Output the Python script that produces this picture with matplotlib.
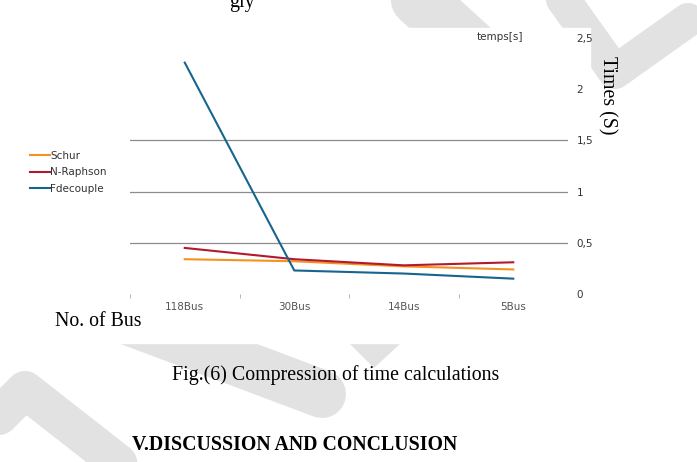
import numpy as np
import matplotlib.pyplot as plt
from matplotlib.patches import Polygon, Rectangle
from matplotlib.lines import Line2D

# bus systems and computing times (s)
buses = ["118Bus", "30Bus", "14Bus", "5Bus"]
schur = [0.34, 0.32, 0.27, 0.24]
n_raphson = [0.45, 0.34, 0.28, 0.31]
fdecouple = [2.26, 0.23, 0.20, 0.15]
y_ticks = [0, 0.5, 1, 1.5, 2, 2.5]
y_labels = ["0", "0,5", "1", "1,5", "2", "2,5"]

W, H = 697, 462
fig = plt.figure(figsize=(6.97, 4.62), dpi=100)


def px(x, y):
    # pixel position (from top-left) -> figure fraction
    return x / W, 1 - y / H


# faint watermark of the page, mostly hidden behind the chart picture
wm = "#e2e2e2"
for path, width in [
    ([(370, -45), (540, 110)], 55),
    ([(535, -40), (615, 72), (688, 20)], 34),
    ([(125, 320), (322, 394)], 48),
    ([(-10, 425), (25, 390), (140, 480)], 38),
]:
    xs, ys = zip(*[px(a, b) for a, b in path])
    fig.add_artist(Line2D(xs, ys, transform=fig.transFigure, color=wm,
                          lw=width * 0.72, solid_capstyle="round",
                          solid_joinstyle="round", zorder=0))
fig.patches.append(Polygon([px(350, 343), px(400, 343), px(374, 367)],
                           closed=True, transform=fig.transFigure, color=wm,
                           zorder=0))
# white background of the pasted chart picture
fig.patches.append(Rectangle(px(0, 343), 590 / W, 315 / H,
                             transform=fig.transFigure, color="white",
                             zorder=0.5))

ax = fig.add_axes([0.1865, 0.3636, 0.6285, 0.5541])
ax.set_zorder(1)
x = np.arange(len(buses))

ax.plot(x, schur, color="#f5911f", lw=1.5, label="Schur")
ax.plot(x, n_raphson, color="#b3192c", lw=1.5, label="N-Raphson")
ax.plot(x, fdecouple, color="#15658f", lw=1.5, label="Fdecouple")

ax.set_xlim(-0.5, 3.5)
ax.set_ylim(0, 2.5)
for v in [0.5, 1, 1.5]:
    ax.axhline(v, color="#8c8c8c", lw=0.9, zorder=0)

ax.yaxis.tick_right()
ax.set_yticks(y_ticks)
ax.set_yticklabels(y_labels)
ax.tick_params(axis="y", length=0, pad=6, labelsize=7.5, labelcolor="#333333")
ax.set_xticks(x)
ax.set_xticklabels(buses)
ax.tick_params(axis="x", which="major", length=0, pad=6, labelsize=7.5,
               labelcolor="#555555")
ax.set_xticks([-0.5, 0.5, 1.5, 2.5], minor=True)
ax.tick_params(axis="x", which="minor", length=3, color="#aaaaaa", width=0.6,
               direction="out")
for s in ax.spines.values():
    s.set_visible(False)
ax.patch.set_alpha(0)

ax.legend(loc="upper left", bbox_to_anchor=px(30, 151),
          bbox_transform=fig.transFigure, frameon=False, fontsize=7.5,
          handlelength=1.9, handletextpad=0.05, labelspacing=0.6,
          borderpad=0, borderaxespad=0, labelcolor="#333333")

serif = "Liberation Serif"
fig.text(*px(500, 37), "temps[s]", fontsize=7.5, ha="center", va="center",
         color="#333333")
fig.text(*px(607, 95), "Times (S)", rotation=-90, fontsize=14.3, family=serif,
         ha="center", va="center")
fig.text(*px(98, 321), "No. of Bus", fontsize=14.3, family=serif,
         ha="center", va="center")
fig.text(*px(336, 375), "Fig.(6) Compression of time calculations",
         fontsize=14.3, family=serif, ha="center", va="center")
fig.text(*px(295, 445), "V.DISCUSSION AND CONCLUSION", fontsize=14.3,
         family=serif, weight="bold", ha="center", va="center")
fig.text(*px(242, 3), "gly", fontsize=14.3, family=serif, ha="center",
         va="center")

fig.savefig("out.png", dpi=100)
